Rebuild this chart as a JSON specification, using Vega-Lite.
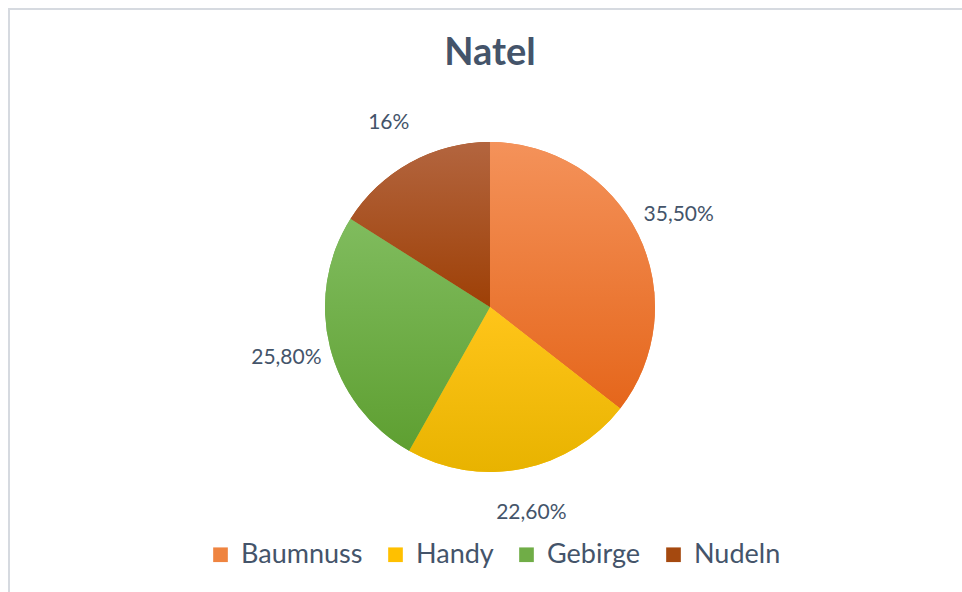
{
  "$schema": "https://vega.github.io/schema/vega-lite/v6.json",
  "autosize": "none",
  "padding": {"left": 9, "top": 9, "right": 0, "bottom": 0},
  "width": 962,
  "height": 596,
  "background": "white",
  "view": {"stroke": "#D6DAE0", "strokeWidth": 2, "fill": null},
  "title": {
    "text": "Natel",
    "orient": "top",
    "anchor": "middle",
    "frame": "group",
    "baseline": "alphabetic",
    "offset": -57,
    "dy": 37,
    "font": "Lato",
    "fontSize": 38,
    "fontWeight": "bold",
    "color": "#44546A"
  },
  "data": {
    "values": [
      {"cat": "Baumnuss", "value": 35.5, "label": "35,50%", "rank": 1},
      {"cat": "Handy", "value": 22.6, "label": "22,60%", "rank": 2},
      {"cat": "Gebirge", "value": 25.8, "label": "25,80%", "rank": 3},
      {"cat": "Nudeln", "value": 16, "label": "16%", "rank": 4}
    ]
  },
  "encoding": {
    "theta": {"field": "value", "type": "quantitative", "stack": true},
    "order": {"field": "rank", "type": "quantitative"}
  },
  "layer": [
    {
      "mark": {"type": "arc", "outerRadius": 165},
      "encoding": {
        "color": {
          "field": "cat",
          "type": "nominal",
          "sort": ["Baumnuss", "Handy", "Gebirge", "Nudeln"],
          "scale": {
            "domain": ["Baumnuss", "Handy", "Gebirge", "Nudeln"],
            "range": ["#EF8440", "#FFC000", "#70AD47", "#A5490F"]
          },
          "legend": {
            "title": null,
            "orient": "none",
            "direction": "horizontal",
            "legendX": 198,
            "legendY": 532,
            "padding": 0,
            "symbolType": "square",
            "symbolSize": 215,
            "symbolStrokeWidth": 0,
            "labelFont": "Lato",
            "labelFontSize": 27,
            "labelColor": "#44546A",
            "labelOffset": 7,
            "columnPadding": 19
          }
        }
      }
    },
    {
      "mark": {"type": "arc", "outerRadius": 165},
      "encoding": {
        "detail": {"field": "cat", "type": "nominal"},
        "fill": {
          "condition": [
            {"test": "datum.cat === 'Baumnuss'", "value": {"gradient": "linear", "x1": 0, "y1": 0, "x2": 0, "y2": 1, "stops": [{"offset": 0, "color": "#F4925A"}, {"offset": 1, "color": "#E5661B"}]}},
            {"test": "datum.cat === 'Handy'", "value": {"gradient": "linear", "x1": 0, "y1": 0, "x2": 0, "y2": 1, "stops": [{"offset": 0, "color": "#FFC51A"}, {"offset": 1, "color": "#E8B300"}]}},
            {"test": "datum.cat === 'Gebirge'", "value": {"gradient": "linear", "x1": 0, "y1": 0, "x2": 0, "y2": 1, "stops": [{"offset": 0, "color": "#80BC5E"}, {"offset": 1, "color": "#5E9F31"}]}}
          ],
          "value": {"gradient": "linear", "x1": 0, "y1": 0, "x2": 0, "y2": 1, "stops": [{"offset": 0, "color": "#B3653F"}, {"offset": 1, "color": "#9E4006"}]}
        }
      }
    },
    {
      "mark": {"type": "text", "radius": 210, "font": "Lato", "fontSize": 21, "color": "#44546A"},
      "encoding": {
        "detail": {"field": "cat", "type": "nominal"},
        "text": {"field": "label", "type": "nominal"}
      }
    }
  ],
  "config": {
    "view": {"stroke": "#D6DAE0", "strokeWidth": 2}
  }
}
